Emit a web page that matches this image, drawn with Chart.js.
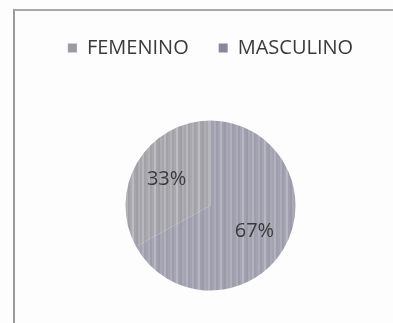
<!DOCTYPE html>
<html>
<head>
<meta charset="utf-8">
<script src="https://cdn.jsdelivr.net/npm/chart.js@4"></script>
<style>
  html, body { margin: 0; padding: 0; background: #fdfdfd; }
  body { width: 393px; height: 323px; position: relative; overflow: hidden; }
  #frame {
    position: absolute; left: 13px; top: 9px; width: 400px; height: 330px;
    border-left: 2px solid #9a9a9a; border-top: 2px solid #a8a8a8;
  }
  #wrap { position: absolute; left: 14px; top: 0; width: 393px; height: 323px; }
</style>
</head>
<body>
<div id="frame"></div>
<div id="wrap"><canvas id="myChart" width="393" height="323"></canvas></div>
<script>
// gender split
const categories = ['FEMENINO', 'MASCULINO']
const shares = [33, 67]
const percentLabels = ['33%', '67%']

// streaky grey fills, like a printed/scanned chart
const stripeSets = [
    ['#a9a8ad', '#b3b2b7', '#a2a1a7', '#aaa9ae', '#bdbcc1', '#a5a4aa', '#9f9ea5', '#afaeb4', '#a6a5ab', '#b8b7bc', '#a3a2a8'],
    ['#a2a2b0', '#adadba', '#9c9caa', '#a5a5b3', '#b7b7c3', '#a0a0ae', '#9a9aa9', '#aaaab7', '#a3a3b1', '#b2b2be', '#9e9eac']
]
// plain swatches for the legend
const legendColors = ['#9c9ba1', '#88889a']

function stripes(colors) {
    const c = document.createElement('canvas')
    c.width = colors.length * 2
    c.height = 4
    const g = c.getContext('2d')
    colors.forEach((col, i) => {
        g.fillStyle = col
        g.fillRect(i * 2, 0, 2, 4)
    })
    return g.createPattern(c, 'repeat')
}

// writes the percentage inside each slice
const sliceLabels = {
    id: 'sliceLabels',
    afterDatasetsDraw(chart) {
        const ctx = chart.ctx
        const meta = chart.getDatasetMeta(0)
        ctx.save()
        ctx.font = '20px "Open Sans"'
        ctx.fillStyle = '#3a3a3a'
        ctx.textAlign = 'center'
        ctx.textBaseline = 'middle'
        meta.data.forEach((arc, i) => {
            const p = arc.getProps(['x', 'y', 'startAngle', 'endAngle', 'outerRadius'], true)
            const mid = (p.startAngle + p.endAngle) / 2
            const d = p.outerRadius * 0.6
            ctx.fillText(percentLabels[i], p.x + Math.cos(mid) * d, p.y + Math.sin(mid) * d)
        })
        ctx.restore()
    }
}

// extra room under the legend
const legendGap = {
    id: 'legendGap',
    beforeInit(chart) {
        const fit = chart.legend.fit
        chart.legend.fit = function () {
            fit.bind(chart.legend)()
            this.height += 20
        }
    }
}

const ctx = document.querySelector('#myChart').getContext('2d')

let chart = new Chart(ctx, {
    type: 'pie',
    data: {
        labels: categories,
        datasets: [{
            data: shares,
            backgroundColor: stripeSets.map(stripes),
            borderWidth: 0,
            radius: 85
        }]
    },
    options: {
        responsive: false,
        animation: false,
        rotation: 241.2,
        layout: { padding: { top: 8, bottom: 0 } },
        plugins: {
            legend: {
                position: 'top',
                labels: {
                    boxWidth: 9,
                    boxHeight: 9,
                    padding: 30,
                    color: '#3a3a3a',
                    font: { family: 'Open Sans', size: 20 },
                    generateLabels(chart) {
                        const items = Chart.overrides.pie.plugins.legend.labels.generateLabels(chart)
                        items.forEach((it, i) => {
                            it.fillStyle = legendColors[i]
                            it.strokeStyle = legendColors[i]
                            it.lineWidth = 0
                        })
                        return items
                    }
                }
            },
            tooltip: { enabled: false }
        }
    },
    plugins: [sliceLabels, legendGap]
})
</script>
</body>
</html>
